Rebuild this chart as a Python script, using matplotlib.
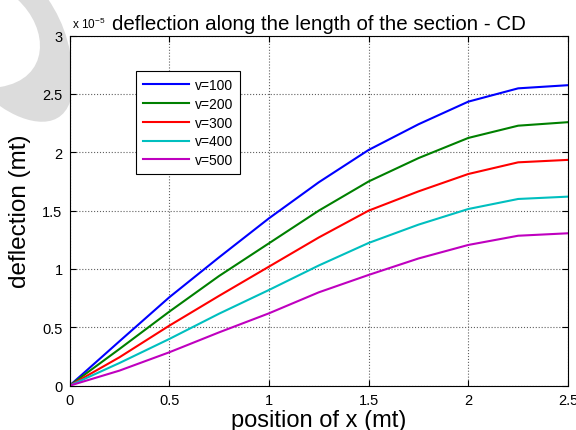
import numpy as np
import matplotlib
matplotlib.use('Agg')
import matplotlib.pyplot as plt
from matplotlib.path import Path
from matplotlib.patches import PathPatch

plt.rcParams['font.family'] = ['Liberation Sans', 'DejaVu Sans']
plt.rcParams['mathtext.fontset'] = 'custom'
plt.rcParams['mathtext.rm'] = 'Liberation Sans'
plt.rcParams['mathtext.default'] = 'rm'

# deflection values, units of 1e-5 mt
x = [0, 0.25, 0.5, 0.75, 1.0, 1.25, 1.5, 1.75, 2.0, 2.25, 2.5]
v100 = [0, 0.38, 0.757, 1.10, 1.434, 1.743, 2.02, 2.24, 2.434, 2.548, 2.575]
v200 = [0, 0.314, 0.634, 0.94, 1.22, 1.50, 1.75, 1.95, 2.123, 2.228, 2.258]
v300 = [0, 0.243, 0.514, 0.77, 1.02, 1.27, 1.50, 1.665, 1.814, 1.914, 1.935]
v400 = [0, 0.194, 0.40, 0.617, 0.82, 1.03, 1.223, 1.38, 1.514, 1.60, 1.62]
v500 = [0, 0.129, 0.286, 0.457, 0.62, 0.80, 0.949, 1.09, 1.206, 1.285, 1.306]
labels = ['v=100', 'v=200', 'v=300', 'v=400', 'v=500']
colors = ['#0000ff', '#008000', '#ff0000', '#00bfbf', '#bf00bf']

xticks = [0, 0.5, 1, 1.5, 2, 2.5]
xticklabels = ['0', '0.5', '1', '1.5', '2', '2.5']
yticks = [0, 0.5, 1, 1.5, 2, 2.5, 3]
yticklabels = ['0', '0.5', '1', '1.5', '2', '2.5', '3']

fig = plt.figure(figsize=(5.76, 4.31), dpi=100)
ax = fig.add_axes([0.1207, 0.1028, 0.8654, 0.8123])

# grey swoosh in the top-left corner (page watermark), pixel coords
W, H = 576.0, 431.0
pts = [(17, 0), (50, 30), (50, 80), (0, 88), (0, 107),
       (25, 125), (65, 135), (72, 95), (75, 55), (65, 25), (48, 0), (17, 0)]
codes = [Path.MOVETO, Path.CURVE4, Path.CURVE4, Path.CURVE4, Path.LINETO,
         Path.CURVE4, Path.CURVE4, Path.CURVE4, Path.CURVE4, Path.CURVE4, Path.CURVE4,
         Path.CLOSEPOLY]
verts = [(px / W, 1 - py / H) for px, py in pts]
fig.add_artist(PathPatch(Path(verts, codes), transform=fig.transFigure,
                         facecolor='#dcdcdc', edgecolor='none', zorder=-1))

for ys, lab, c in zip([v100, v200, v300, v400, v500], labels, colors):
    ax.plot(x, ys, color=c, lw=1.5, label=lab)

ax.set_xlim(0, 2.5)
ax.set_ylim(0, 3)
ax.set_xticks(xticks)
ax.set_xticklabels(xticklabels)
ax.set_yticks(yticks)
ax.set_yticklabels(yticklabels)
ax.tick_params(direction='in', top=True, right=True, length=4, width=0.8,
               labelsize=10.5, pad=5)
ax.grid(True, linestyle=':', color='#606060', linewidth=0.8)
for s in ax.spines.values():
    s.set_linewidth(0.8)

ax.set_title('deflection along the length of the section - CD', fontsize=14.8, pad=5)
ax.set_xlabel('position of x (mt)', fontsize=17, labelpad=2)
ax.set_ylabel('deflection (mt)', fontsize=17.5, labelpad=8)
ax.text(0.005, 1.012, r'x 10$^{-5}$', transform=ax.transAxes, fontsize=8.5,
        ha='left', va='bottom')

leg = ax.legend(loc='upper left', bbox_to_anchor=(0.1334, 0.899), borderaxespad=0,
                fontsize=10, handlelength=3.3, handletextpad=0.45, labelspacing=0.35,
                fancybox=False, framealpha=1, edgecolor='black', borderpad=0.5)
leg.get_frame().set_linewidth(0.8)

fig.savefig('out.png', dpi=100)
